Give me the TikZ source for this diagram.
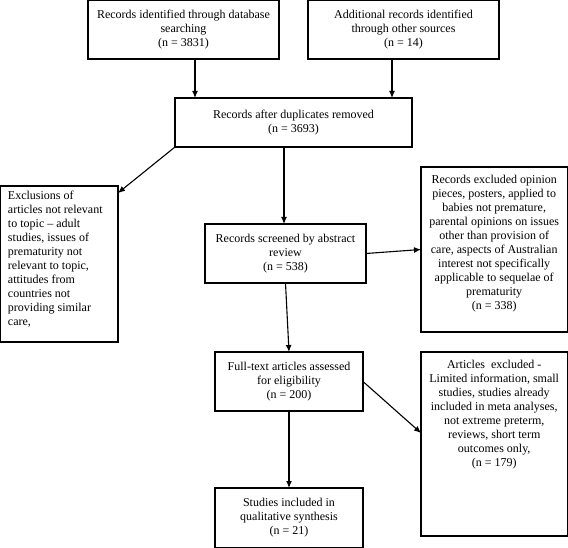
\documentclass[tikz,border=0pt]{standalone}
\usepackage{fontspec}
\setmainfont{Liberation Serif}
\usetikzlibrary{arrows.meta,calc}
\begin{document}
\begin{tikzpicture}[x=1pt,y=-1pt,
  box/.style={draw, line width=1.1pt, inner sep=0pt, outer sep=0pt, align=center,
    font=\fontsize{12}{14}\selectfont},
  arr/.style={line width=1.1pt, -{Latex[length=7pt,width=6pt]}}]
\useasboundingbox (0,0) rectangle (568,548);
\node[box, minimum width=191pt, minimum height=58.4pt] (A) at (183.5,29.8)
  {Records identified through database\\searching\\(n = 3831)};
\node[box, minimum width=191pt, minimum height=58.4pt] (B) at (403.5,29.8)
  {Additional records identified\\through other sources\\(n = 14)};
\node[box, minimum width=237pt, minimum height=49pt] (C) at (293.5,122.5)
  {Records after duplicates removed\\(n = 3693)};
\node[box, minimum width=117.4pt, minimum height=156pt] (L) at (59.3,264)
  {\hspace*{7.4pt}\parbox[c][156pt][t]{110pt}{\raggedright\vspace*{5.5pt}Exclusions of\\articles not relevant\\to topic -- adult\\studies, issues of\\prematurity not\\relevant to topic,\\attitudes from\\countries not\\providing similar\\care,}};
\node[box, minimum width=161pt, minimum height=59pt] (D) at (285.5,253.5)
  {Records screened by abstract\\review\\(n = 538)};
\node[box, minimum width=146.4pt, minimum height=165pt] (R1) at (494.2,249.5)
  {\parbox[c][165pt][t]{146.4pt}{\centering\vspace*{8pt}Records excluded opinion\\pieces, posters, applied to\\babies not premature,\\parental opinions on issues\\other than provision of\\care, aspects of Australian\\interest not specifically\\applicable to sequelae of\\prematurity\\(n = 338)}};
\node[box, minimum width=148pt, minimum height=59pt] (E) at (289,381.5)
  {Full-text articles assessed\\for eligibility\\(n = 200)};
\node[box, minimum width=146.4pt, minimum height=184pt] (R2) at (494.2,444)
  {\parbox[c][184pt][t]{146.4pt}{\centering\vspace*{8pt}Articles\ \ excluded -\\Limited information, small\\studies, studies already\\included in meta analyses,\\not extreme preterm,\\reviews, short term\\outcomes only,\\(n = 179)}};
\node[box, minimum width=148pt, minimum height=59.4pt] (F) at (289,517.7)
  {Studies included in\\qualitative synthesis\\(n = 21)};
\draw[arr] ([xshift=11.5pt]A.south) -- ([xshift=11.5pt]A.south |- C.north);
\draw[arr] ([xshift=-11.5pt]B.south) -- ([xshift=-11.5pt]B.south |- C.north);
\draw[arr] (C.south west) -- ([yshift=-7pt]L.north east);
\draw[arr] ([xshift=-1.5pt]D.north |- C.south) -- ([xshift=-1.5pt]D.north);
\draw[arr] (D.east) -- (R1.west);
\draw[arr] (D.south) -- (E.north);
\draw[arr] (E.east) -- ([yshift=11pt]R2.west);
\draw[arr] (E.south) -- (F.north);
\end{tikzpicture}
\end{document}
